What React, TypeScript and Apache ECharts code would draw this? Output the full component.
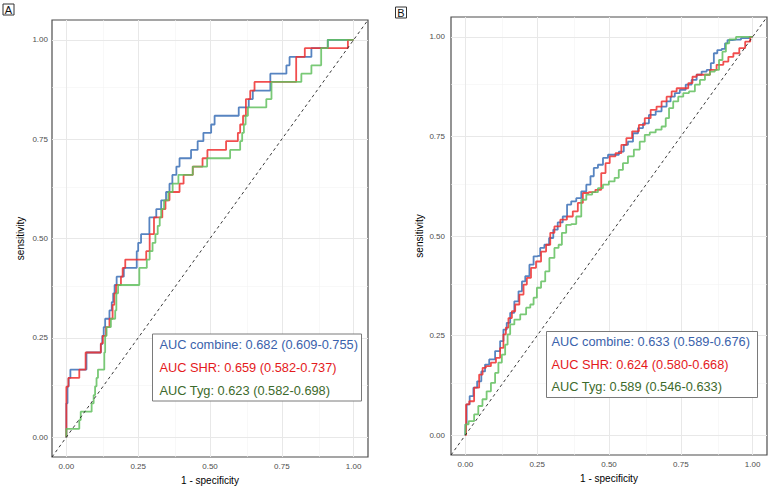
import React, { useEffect, useRef } from "react";
import * as echarts from "echarts";

const majorTicks = [0, 0.25, 0.5, 0.75, 1];
const minorTicks = [0.125, 0.375, 0.625, 0.875];
const panelLabels = ["A", "B"];
const xTitle = "1 - specificity";
const yTitle = "sensitivity";
const seriesNames = ["combine", "SHR", "Tyg"];
const aucLabelsA = [
  "AUC combine: 0.682 (0.609-0.755)",
  "AUC SHR: 0.659 (0.582-0.737)",
  "AUC Tyg: 0.623 (0.582-0.698)",
];
const aucLabelsB = [
  "AUC combine: 0.633 (0.589-0.676)",
  "AUC SHR: 0.624 (0.580-0.668)",
  "AUC Tyg: 0.589 (0.546-0.633)",
];

// Panel A: [fpr, tpr] corner points (end of each horizontal run, its level)
const rocACombine = [
  [0, 0], [0.004, 0.085], [0.008, 0.128], [0.014, 0.149], [0.07, 0.17], [0.12, 0.213],
  [0.125, 0.234], [0.13, 0.255], [0.135, 0.277], [0.15, 0.298], [0.158, 0.319], [0.163, 0.34],
  [0.168, 0.362], [0.175, 0.383], [0.2, 0.404], [0.245, 0.426], [0.25, 0.468], [0.26, 0.489],
  [0.289, 0.511], [0.313, 0.553], [0.33, 0.574], [0.347, 0.596], [0.359, 0.617], [0.369, 0.638],
  [0.383, 0.66], [0.394, 0.681], [0.434, 0.702], [0.457, 0.723], [0.477, 0.745], [0.504, 0.766],
  [0.516, 0.787], [0.6, 0.809], [0.635, 0.83], [0.649, 0.851], [0.71, 0.872], [0.766, 0.915],
  [0.777, 0.936], [0.853, 0.957], [0.91, 0.979], [1, 1],
];
const rocASHR = [
  [0, 0], [0.007, 0.127], [0.045, 0.149], [0.067, 0.17], [0.12, 0.213], [0.127, 0.236],
  [0.138, 0.255], [0.15, 0.277], [0.161, 0.298], [0.167, 0.333], [0.173, 0.362], [0.19, 0.383],
  [0.196, 0.404], [0.205, 0.426], [0.278, 0.447], [0.29, 0.468], [0.305, 0.511], [0.334, 0.553],
  [0.345, 0.574], [0.359, 0.596], [0.394, 0.617], [0.408, 0.638], [0.44, 0.66], [0.474, 0.681],
  [0.491, 0.702], [0.556, 0.723], [0.597, 0.745], [0.605, 0.766], [0.615, 0.787], [0.625, 0.809],
  [0.64, 0.851], [0.655, 0.872], [0.8, 0.894], [0.83, 0.957], [0.98, 0.979], [1, 1],
];
const rocATyg = [
  [0, 0], [0.045, 0.021], [0.05, 0.043], [0.088, 0.064], [0.095, 0.085], [0.1, 0.106],
  [0.105, 0.128], [0.11, 0.149], [0.132, 0.17], [0.135, 0.213], [0.14, 0.255], [0.155, 0.277],
  [0.17, 0.298], [0.174, 0.319], [0.18, 0.362], [0.254, 0.383], [0.28, 0.426], [0.29, 0.447],
  [0.3, 0.468], [0.31, 0.489], [0.318, 0.511], [0.325, 0.532], [0.33, 0.553], [0.34, 0.574],
  [0.355, 0.596], [0.37, 0.617], [0.39, 0.638], [0.44, 0.66], [0.49, 0.681], [0.57, 0.702],
  [0.605, 0.723], [0.612, 0.745], [0.618, 0.766], [0.624, 0.787], [0.632, 0.809], [0.696, 0.83],
  [0.714, 0.851], [0.818, 0.894], [0.853, 0.915], [0.887, 0.936], [0.91, 0.979], [1, 1],
];

// Panel B: [fpr, tpr] points
const rocBCombine = [
  [0, 0], [0.001, 0.027], [0.008, 0.077], [0.022, 0.098], [0.034, 0.119], [0.048, 0.135],
  [0.063, 0.16], [0.074, 0.177], [0.092, 0.19], [0.115, 0.211], [0.127, 0.236], [0.138, 0.265],
  [0.15, 0.282], [0.162, 0.307], [0.179, 0.336], [0.191, 0.361], [0.203, 0.386], [0.214, 0.399],
  [0.232, 0.428], [0.243, 0.449], [0.255, 0.45], [0.266, 0.47], [0.284, 0.478], [0.299, 0.495],
  [0.313, 0.516], [0.33, 0.534], [0.348, 0.549], [0.36, 0.579], [0.377, 0.587], [0.395, 0.595],
  [0.412, 0.612], [0.43, 0.629], [0.441, 0.65], [0.453, 0.671], [0.47, 0.679], [0.488, 0.696],
  [0.505, 0.704], [0.523, 0.704], [0.546, 0.712], [0.557, 0.729], [0.575, 0.737], [0.592, 0.758],
  [0.61, 0.771], [0.627, 0.783], [0.651, 0.804], [0.674, 0.813], [0.692, 0.825], [0.709, 0.838],
  [0.72, 0.85], [0.738, 0.859], [0.755, 0.867], [0.779, 0.88], [0.796, 0.892], [0.814, 0.905],
  [0.831, 0.913], [0.849, 0.917], [0.86, 0.934], [0.87, 0.959], [0.884, 0.967], [0.901, 0.97],
  [0.907, 0.984], [0.918, 0.992], [0.942, 0.993], [0.977, 0.997], [1, 1],
];
const rocBSHR = [
  [0, 0], [0.005, 0.077], [0.022, 0.085], [0.039, 0.119], [0.057, 0.152], [0.063, 0.169],
  [0.08, 0.173], [0.098, 0.182], [0.115, 0.194], [0.127, 0.219], [0.138, 0.253], [0.144, 0.27],
  [0.156, 0.294], [0.168, 0.311], [0.179, 0.328], [0.197, 0.353], [0.208, 0.378], [0.22, 0.395],
  [0.237, 0.42], [0.255, 0.436], [0.272, 0.461], [0.29, 0.478], [0.301, 0.508], [0.319, 0.524],
  [0.342, 0.541], [0.365, 0.549], [0.383, 0.562], [0.4, 0.583], [0.418, 0.608], [0.441, 0.61],
  [0.464, 0.616], [0.482, 0.658], [0.494, 0.683], [0.511, 0.7], [0.534, 0.708], [0.552, 0.729],
  [0.569, 0.746], [0.592, 0.763], [0.616, 0.779], [0.633, 0.796], [0.657, 0.817], [0.674, 0.825],
  [0.692, 0.838], [0.709, 0.85], [0.727, 0.863], [0.744, 0.871], [0.767, 0.871], [0.785, 0.884],
  [0.796, 0.9], [0.814, 0.905], [0.843, 0.905], [0.86, 0.917], [0.889, 0.93], [0.907, 0.938],
  [0.924, 0.95], [0.942, 0.959], [0.965, 0.972], [0.983, 0.988], [1, 1],
];
const rocBTyg = [
  [0, 0], [0.001, 0.027], [0.022, 0.035], [0.039, 0.052], [0.051, 0.073], [0.068, 0.09],
  [0.08, 0.11], [0.098, 0.131], [0.109, 0.156], [0.121, 0.182], [0.133, 0.202], [0.144, 0.227],
  [0.15, 0.253], [0.162, 0.278], [0.179, 0.29], [0.203, 0.303], [0.22, 0.32], [0.232, 0.328],
  [0.243, 0.345], [0.255, 0.37], [0.272, 0.386], [0.284, 0.411], [0.301, 0.445], [0.319, 0.47],
  [0.33, 0.478], [0.342, 0.508], [0.36, 0.528], [0.377, 0.53], [0.395, 0.549], [0.412, 0.591],
  [0.43, 0.604], [0.453, 0.61], [0.47, 0.62], [0.488, 0.629], [0.511, 0.637], [0.528, 0.646],
  [0.54, 0.666], [0.557, 0.683], [0.575, 0.7], [0.598, 0.717], [0.616, 0.737], [0.633, 0.754],
  [0.651, 0.76], [0.674, 0.767], [0.692, 0.775], [0.703, 0.796], [0.715, 0.821], [0.732, 0.838],
  [0.75, 0.85], [0.767, 0.859], [0.79, 0.863], [0.808, 0.88], [0.825, 0.892], [0.843, 0.905],
  [0.86, 0.913], [0.877, 0.917], [0.889, 0.942], [0.901, 0.963], [0.913, 0.984], [0.924, 0.994],
  [0.96, 1], [1, 1],
];

const diagonal = [[-0.05, -0.05], [1.05, 1.05]];

const lineColors = ["#3a6fb6", "#ee2f2f", "#62bf5e"];
const textColors = ["#3a62ab", "#e41a1c", "#3d6a2c"];
const FONT = '"Liberation Sans", Arial, Helvetica, sans-serif';

export default function App() {
  const ref = useRef<HTMLDivElement>(null);

  useEffect(() => {
    if (!ref.current) return;
    const chart = echarts.init(ref.current, undefined, { renderer: "svg" });

    const grids = [
      { left: 52, top: 20, width: 316, height: 438 },
      { left: 451, top: 17, width: 316, height: 438 },
    ];

    const makeX = (i: number) => ({
      type: "value",
      gridIndex: i,
      min: -0.05,
      max: 1.05,
      axisLine: { show: false },
      splitLine: { show: false },
      axisTick: { show: true, customValues: majorTicks, length: 3, lineStyle: { color: "#333", width: 1 } },
      axisLabel: {
        customValues: majorTicks,
        formatter: (v: number) => v.toFixed(2),
        fontSize: 8,
        color: "#4d4d4d",
        margin: 5,
        fontFamily: FONT,
      },
      name: xTitle,
      nameLocation: "middle",
      nameGap: 18,
      nameTextStyle: { fontSize: 10, color: "#000", fontFamily: FONT },
    });
    const makeY = (i: number) => ({
      type: "value",
      gridIndex: i,
      min: -0.05,
      max: 1.05,
      axisLine: { show: false },
      splitLine: { show: false },
      axisTick: { show: true, customValues: majorTicks, length: 3, lineStyle: { color: "#333", width: 1 } },
      axisLabel: {
        customValues: majorTicks,
        formatter: (v: number) => v.toFixed(2),
        fontSize: 8,
        color: "#4d4d4d",
        margin: i === 0 ? 4 : 6,
        fontFamily: FONT,
      },
      name: yTitle,
      nameLocation: "middle",
      nameGap: 27,
      nameRotate: 90,
      nameTextStyle: { fontSize: 10, color: "#000", fontFamily: FONT },
    });

    const gridLineSeries = (i: number) => ({
      type: "line",
      xAxisIndex: i,
      yAxisIndex: i,
      data: diagonal,
      symbol: "none",
      silent: true,
      lineStyle: { opacity: 0 },
      z: 1,
      markLine: {
        silent: true,
        z: 1,
        symbol: ["none", "none"],
        label: { show: false },
        animation: false,
        data: [
          ...minorTicks.map((v) => ({ xAxis: v, lineStyle: { color: "#f3f3f3", width: 0.6, type: "solid" } })),
          ...minorTicks.map((v) => ({ yAxis: v, lineStyle: { color: "#f3f3f3", width: 0.6, type: "solid" } })),
          ...majorTicks.map((v) => ({ xAxis: v, lineStyle: { color: "#e8e8e8", width: 1, type: "solid" } })),
          ...majorTicks.map((v) => ({ yAxis: v, lineStyle: { color: "#e8e8e8", width: 1, type: "solid" } })),
        ],
      },
    });

    const curve = (i: number, k: number, data: number[][], step: string) => ({
      type: "line",
      name: seriesNames[k],
      xAxisIndex: i,
      yAxisIndex: i,
      data,
      step,
      symbol: "none",
      showSymbol: false,
      silent: true,
      z: 3,
      lineStyle: { color: lineColors[k], width: 1.8, opacity: 0.85 },
    });

    const diag = (i: number) => ({
      type: "line",
      xAxisIndex: i,
      yAxisIndex: i,
      data: diagonal,
      symbol: "none",
      silent: true,
      z: 4,
      lineStyle: { color: "#222", width: 0.9, type: [3, 3] },
    });

    const legendBox = (x: number, y: number, w: number, h: number, tx: number, ys: number[], labels: string[]) => [
      {
        type: "rect",
        shape: { x, y, width: w, height: h },
        style: { fill: "#fff", stroke: "#7a7a7a", lineWidth: 1 },
        z: 10,
      },
      ...labels.map((t, k) => ({
        type: "text",
        x: tx,
        y: ys[k],
        z: 11,
        style: {
          text: t,
          fill: textColors[k],
          font: `12.8px ${FONT}`,
          textAlign: "left",
          textVerticalAlign: "middle",
          verticalAlign: "middle",
        },
      })),
    ];

    const panelTag = (x: number, y: number, label: string) => [
      {
        type: "rect",
        shape: { x, y, width: 11, height: 11 },
        style: { fill: "none", stroke: "#333", lineWidth: 1 },
        z: 10,
      },
      {
        type: "text",
        x: x + 5.5,
        y: y + 6,
        z: 11,
        style: {
          text: label,
          fill: "#111",
          font: `11px ${FONT}`,
          textAlign: "center",
          textVerticalAlign: "middle",
          verticalAlign: "middle",
        },
      },
    ];

    chart.setOption({
      animation: false,
      textStyle: { fontFamily: FONT },
      grid: grids.map((g) => ({
        ...g,
        show: true,
        borderColor: "#4d4d4d",
        borderWidth: 1.2,
        backgroundColor: "transparent",
      })),
      xAxis: [makeX(0), makeX(1)],
      yAxis: [makeY(0), makeY(1)],
      series: [
        gridLineSeries(0),
        gridLineSeries(1),
        curve(0, 0, rocACombine, "start"),
        curve(0, 1, rocASHR, "start"),
        curve(0, 2, rocATyg, "start"),
        curve(1, 0, rocBCombine, "middle"),
        curve(1, 1, rocBSHR, "middle"),
        curve(1, 2, rocBTyg, "middle"),
        diag(0),
        diag(1),
      ],
      graphic: [
        ...panelTag(3, 4, panelLabels[0]),
        ...panelTag(395.5, 7, panelLabels[1]),
        ...legendBox(152.5, 334, 209, 67, 159.5, [344.5, 367.5, 390], aucLabelsA),
        ...legendBox(546.5, 331.5, 211, 66, 551.5, [341.5, 364, 386.5], aucLabelsB),
      ],
    });

    return () => chart.dispose();
  }, []);

  return (
    <div
      ref={ref}
      style={{ position: "fixed", left: 0, top: 0, width: "784px", height: "490px", background: "#fff" }}
    />
  );
}
